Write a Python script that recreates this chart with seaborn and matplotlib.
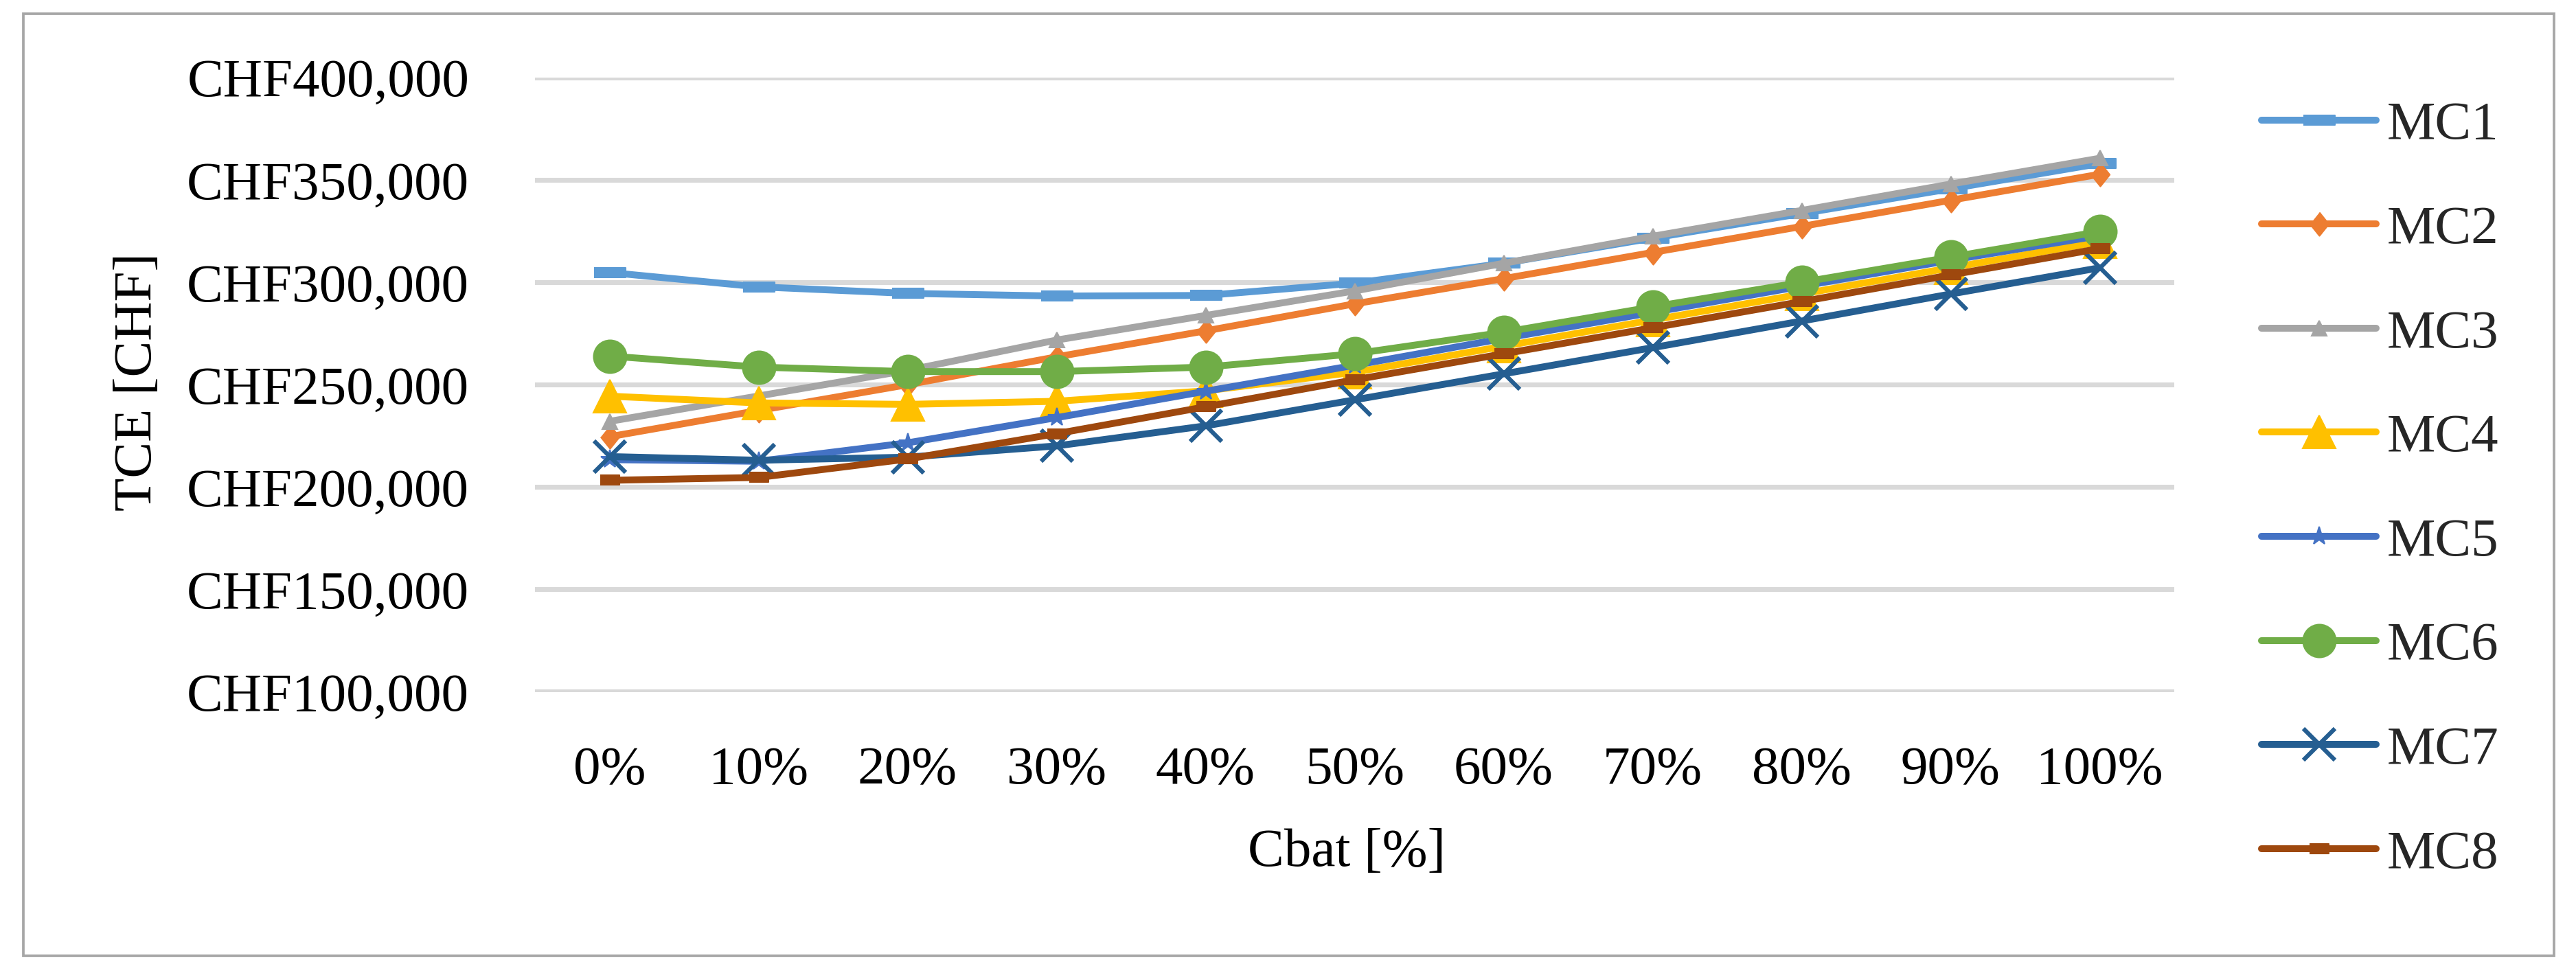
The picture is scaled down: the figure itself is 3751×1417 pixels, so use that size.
import numpy as np
import pandas as pd
import matplotlib
matplotlib.use("Agg")
import matplotlib.pyplot as plt
import matplotlib.patches as mpatches
from matplotlib.ticker import FuncFormatter
import seaborn as sns

# ---------------- data ----------------
categories = ['0%', '10%', '20%', '30%', '40%', '50%', '60%', '70%', '80%', '90%', '100%']
series_names = ['MC1', 'MC2', 'MC3', 'MC4', 'MC5', 'MC6', 'MC7', 'MC8']
MC1 = [304800, 297800, 294600, 293300, 293600, 299600, 309300, 321600, 333600, 345700, 358000]
MC2 = [224600, 237400, 250000, 263600, 276300, 289500, 301800, 314600, 327300, 340100, 352800]
MC3 = [232100, 244500, 257000, 271800, 283800, 295800, 309300, 322500, 335100, 348000, 360600]
MC4 = [244400, 241100, 240400, 241900, 247000, 256100, 268800, 281600, 294300, 307100, 319800]
MC5 = [213400, 212600, 221600, 233900, 246800, 259500, 272600, 285300, 298100, 310800, 322800]
MC6 = [264000, 258600, 256400, 256400, 258600, 265100, 275600, 288000, 300000, 312300, 324800]
MC7 = [214900, 213100, 214600, 220100, 229900, 242600, 255300, 268100, 281100, 294300, 307100]
MC8 = [203300, 204700, 213700, 226100, 239200, 252400, 265100, 277800, 290600, 303600, 316500]
series_values = [MC1, MC2, MC3, MC4, MC5, MC6, MC7, MC8]
y_ticks = [100000, 150000, 200000, 250000, 300000, 350000, 400000]

# ---------------- styles ----------------
colors = ['#5B9BD5', '#ED7D31', '#A5A5A5', '#FFC000', '#4472C4', '#70AD47', '#255E91', '#9E480E']
dash = [(-1, -0.3), (1, -0.3), (1, 0.3), (-1, 0.3)]
rect = [(-1, -0.55), (1, -0.55), (1, 0.55), (-1, 0.55)]
diamond = [(0, 1), (0.8, 0), (0, -1), (-0.8, 0)]
markers = [dash, diamond, '^', '^', '*', 'o', 'x', rect]
msizes = [11.0, 8.2, 5.3, 11.5, 6.5, 11.5, 11.0, 6.5]

sns.set_style('white')
plt.rcParams['font.family'] = ['Liberation Serif', 'DejaVu Serif']

W, H, DPI = 3751, 1417, 300
fig = plt.figure(figsize=(W / DPI, H / DPI), dpi=DPI)
left, right = 779 / W, 3166 / W
top, bottom = 1 - 113 / H, 1 - 1007.5 / H
ax = fig.add_axes([left, bottom, right - left, top - bottom])

x_pos = np.arange(len(categories))
lw = 2.4
for name, vals, c, m, ms in zip(series_names, series_values, colors, markers, msizes):
    df = pd.DataFrame({'Cbat': x_pos, 'TCE': vals})
    mew = 1.5 if m == 'x' else 0.5
    sns.lineplot(data=df, x='Cbat', y='TCE', ax=ax, color=c, lw=lw,
                 marker=m, markersize=ms, markeredgecolor=c, markerfacecolor=c,
                 markeredgewidth=mew, label=name, legend=False, zorder=3,
                 solid_capstyle='round')

ax.set_xlim(-0.5, len(categories) - 0.5)
ax.set_ylim(y_ticks[0], y_ticks[-1])
ax.set_xticks(x_pos)
ax.set_xticklabels(categories)
ax.set_yticks(y_ticks)
ax.yaxis.set_major_formatter(FuncFormatter(lambda v, p: 'CHF{:,.0f}'.format(v)))
ax.grid(axis='y', color='#D9D9D9', lw=1.7, zorder=0)
ax.grid(axis='x', visible=False)
for s in ax.spines.values():
    s.set_visible(False)
ax.tick_params(axis='both', length=0, labelsize=19, colors='black')
ax.tick_params(axis='y', pad=23)
ax.tick_params(axis='x', pad=19)

ax.set_xlabel('Cbat [%]', fontsize=19, color='black')
ax.set_ylabel('TCE [CHF]', fontsize=19, color='black')
ax.xaxis.set_label_coords(0.495, -0.222)
ax.yaxis.set_label_coords(-0.227, 0.505)

handles = ax.get_lines()[:len(series_names)]
fig.legend(handles, series_names, loc='upper left',
           bbox_to_anchor=(3293 / W, 1 - 147 / H), bbox_transform=fig.transFigure,
           frameon=False, fontsize=19, borderpad=0, borderaxespad=0,
           handlelength=2.11, handletextpad=0.2, labelspacing=1.0)

# outer border
border = mpatches.Rectangle((34 / W, 1 - 1392 / H), (3719 - 34) / W, (1392 - 20) / H,
                            transform=fig.transFigure, fill=False,
                            edgecolor='#A6A6A6', lw=0.9)
fig.patches.append(border)

fig.savefig('out.png', dpi=DPI, facecolor='white')
